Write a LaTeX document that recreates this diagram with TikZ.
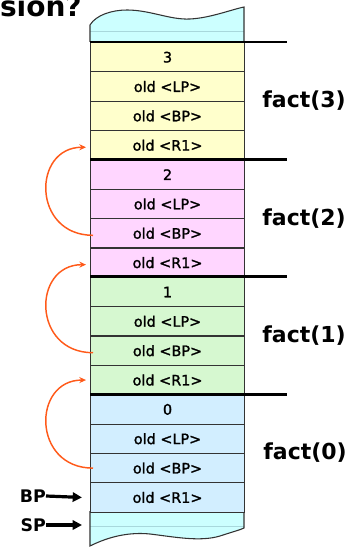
\documentclass[tikz,border=0pt]{standalone}
\usepackage{fontspec}
\setmainfont{DejaVu Sans}
\newfontfamily\cellfont{DejaVu Sans}[FakeBold=1.5]
\usetikzlibrary{arrows.meta,calc}

\definecolor{frameyellow}{HTML}{FFFFCC}
\definecolor{framepink}{HTML}{FFD6FF}
\definecolor{framegreen}{HTML}{D6F8D0}
\definecolor{frameblue}{HTML}{D2EEFF}
\definecolor{stackcyan}{HTML}{CCFFFF}
\definecolor{faintline}{HTML}{A8D8DC}
\definecolor{linkorange}{HTML}{FF5A1A}
\definecolor{cellline}{HTML}{333333}

\begin{document}
\begin{tikzpicture}[x=0.75pt,y=-0.75pt,
  cell/.style={draw=cellline, line width=0.8pt, minimum width=115.5pt,
    minimum height=22.01pt, inner sep=0pt, anchor=north west,
    font=\cellfont\fontsize{10.8}{12}\selectfont},
  divider/.style={line width=2.2pt, black},
  factlabel/.style={font=\bfseries\fontsize{16.5}{18}\selectfont, inner sep=0pt},
  reglabel/.style={font=\bfseries\fontsize{13}{14}\selectfont, inner sep=0pt, anchor=east},
  link/.style={draw=linkorange, line width=1.1pt,
    -{Stealth[length=5pt,width=4.5pt]}},
  regarrow/.style={line width=2.4pt, -{Triangle[length=7pt,width=7pt]}}]

\useasboundingbox (0,0) rectangle (360,548);

% title fragment cut off at the top edge
\node[anchor=base east, inner sep=0pt,
  font=\bfseries\fontsize{21}{21}\selectfont] (title) at (82,17) {sion?};

% top of the stack (unused area)
\fill[stackcyan] (90,42) -- (90,25) .. controls (96,15) and (112,10) .. (127,10)
  .. controls (150,10) and (170,20) .. (190,19)
  .. controls (210,18) and (230,10) .. (244,7) -- (244,42) -- cycle;
\draw[faintline, line width=0.6pt] (90,31) -- (244,31);
\draw[cellline, line width=0.8pt] (90,42) -- (90,25) .. controls (96,15) and (112,10) .. (127,10)
  .. controls (150,10) and (170,20) .. (190,19)
  .. controls (210,18) and (230,10) .. (244,7) -- (244,42);

% bottom of the stack (free area below SP)
\fill[stackcyan] (90,511) -- (90,546) .. controls (110,536) and (130,532) .. (150,534)
  .. controls (175,537) and (200,542) .. (220,536)
  .. controls (232,532) and (240,530) .. (244,528) -- (244,511) -- cycle;
\draw[faintline, line width=0.6pt] (90,526) -- (244,526);
\draw[cellline, line width=0.8pt] (90,511) -- (90,546) .. controls (110,536) and (130,532) .. (150,534)
  .. controls (175,537) and (200,542) .. (220,536)
  .. controls (232,532) and (240,530) .. (244,528) -- (244,511);

% stack frames, one cell per word
\foreach \i/\t/\c in {
  0/3/frameyellow, 1/old <LP>/frameyellow, 2/old <BP>/frameyellow, 3/old <R1>/frameyellow,
  4/2/framepink, 5/old <LP>/framepink, 6/old <BP>/framepink, 7/old <R1>/framepink,
  8/1/framegreen, 9/old <LP>/framegreen, 10/old <BP>/framegreen, 11/old <R1>/framegreen,
  12/0/frameblue, 13/old <LP>/frameblue, 14/old <BP>/frameblue, 15/old <R1>/frameblue}
  \node[cell, fill=\c] (r\i) at (90,{42+\i*29.35}) {\t};

% frame boundaries
\foreach \i in {0,4,8,12}
  \draw[divider] (r\i.north west) -- ++(197,0);

% frame labels
\node[factlabel] (f3) at ($(r2.north east)+(59,0)$) {fact(3)};
\node[factlabel] (f2) at ($(r6.north east)+(59,0)$) {fact(2)};
\node[factlabel] (f1) at ($(r10.north east)+(59,0)$) {fact(1)};
\node[factlabel] (f0) at ($(r14.north east)+(60,0)$) {fact(0)};

% saved base pointers linking the frames
\draw[link] ($(r6.west)+(3,2)$) .. controls +(-61,0) and +(-54,0) .. ($(r3.west)+(-4,2)$);
\draw[link] ($(r10.west)+(3,2)$) .. controls +(-61,0) and +(-54,0) .. ($(r7.west)+(-4,2)$);
\draw[link] ($(r14.west)+(3,0)$) .. controls +(-61,0) and +(-54,0) .. ($(r11.west)+(-4,0)$);

% register pointers
\coordinate (bptip) at ($(r15.west)+(-8,0)$);
\coordinate (sptip) at (82,525);
\node[reglabel] (bp) at (46,496) {BP};
\node[reglabel] (sp) at (46,525) {SP};
\draw[regarrow] (bp.east) -- (bptip);
\draw[regarrow] (sp.east) -- (sptip);

\end{tikzpicture}
\end{document}
